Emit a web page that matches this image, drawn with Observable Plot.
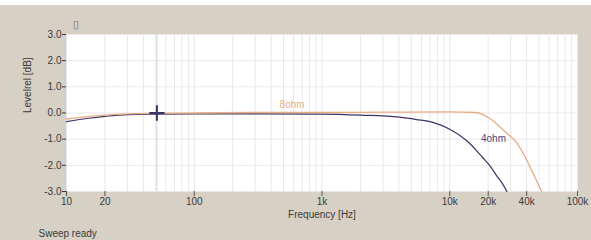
<!DOCTYPE html>
<html>
<head>
<meta charset="utf-8">
<script src="https://cdn.jsdelivr.net/npm/d3@7"></script>
<script src="https://cdn.jsdelivr.net/npm/@observablehq/plot@0.6"></script>
<style>
  html, body { margin: 0; padding: 0; background: #fff; }
  #chart svg { display: block; }
</style>
</head>
<body>
<div id="chart"></div>
<script>
// ---- data ----
const freq8 = [10, 15, 20, 30, 50, 100, 300, 1000, 3000, 10000, 16000, 20500, 25000, 29400, 33000, 37200, 41000, 44500, 48000, 50500, 52500];
const lvl8  = [-0.23, -0.13, -0.08, -0.03, -0.01, 0.0, 0.02, 0.02, 0.03, 0.04, 0.02, -0.2, -0.55, -0.87, -1.1, -1.5, -1.9, -2.27, -2.6, -2.85, -3.0];
const freq4 = [10, 15, 20, 30, 50, 100, 300, 1000, 2000, 4060, 5500, 7370, 10000, 13600, 18100, 20500, 23300, 26000, 28000];
const lvl4  = [-0.33, -0.2, -0.13, -0.06, -0.04, -0.03, -0.03, -0.04, -0.08, -0.16, -0.25, -0.36, -0.62, -1.06, -1.7, -2.0, -2.4, -2.72, -3.0];
const seriesNames = ["8ohm", "4ohm"];
const labelFreq = [583, 22000];
const labelLvl = [0.3, -1.0];
const cursorFreq = [51];
const cursorLvl = [0];
const xTicks = [10, 20, 100, 1000, 10000, 20000, 40000, 100000];
const xTickLabels = ["10", "20", "100", "1k", "10k", "20k", "40k", "100k"];
const yTicks = [-3, -2, -1, 0, 1, 2, 3];
const xLabel = "Frequency [Hz]";
const yLabel = "Levelrel [dB]";
const statusText = "Sweep ready";
const cornerGlyph = "▯";

// ---- derived tables ----
const s8 = freq8.map((f, i) => ({f, v: lvl8[i]}));
const s4 = freq4.map((f, i) => ({f, v: lvl4[i]}));
const labels = seriesNames.map((n, i) => ({n, f: labelFreq[i], v: labelLvl[i]}));
const cursor = cursorFreq.map((f, i) => ({f, v: cursorLvl[i]}));
const minor = [];
for (let e = 1; e < 5; e++) for (let m = 1; m <= 9; m++) minor.push(m * 10 ** e);
minor.push(100000);
const xTickRows = xTicks.map((t, i) => ({t, label: xTickLabels[i]}));

const c8 = "#e8ad80";
const c4 = "#3b3466";
const font = "Arial, 'Liberation Sans', sans-serif";

const chart = Plot.plot({
  width: 591,
  height: 240,
  marginLeft: 66,
  marginRight: 14,
  marginTop: 34,
  marginBottom: 49,
  style: {
    background: "linear-gradient(#ffffff 0 5px, #d7d0c4 5px)",
    fontFamily: font,
    fontSize: "10px",
    color: "#3a3a3a"
  },
  x: {type: "log", domain: [10, 100000]},
  y: {domain: [-3, 3]},
  marks: [
    Plot.frame({fill: "#ffffff", stroke: "#cfc9bf"}),
    Plot.ruleX(minor, {stroke: "#e8e8ec", strokeWidth: 1}),
    Plot.ruleY(yTicks, {stroke: "#e8e8ec", strokeWidth: 1}),
    Plot.ruleX(cursor, {x: "f", stroke: "#d0d3e2", strokeWidth: 1}),
    Plot.axisX({ticks: xTicks, tickFormat: () => "", tickSize: 5, label: null, stroke: "#555"}),
    Plot.text(xTickRows, {x: "t", text: "label", frameAnchor: "bottom", dy: 13, fill: "#3a3a3a", fontSize: 10}),
    Plot.axisY({ticks: yTicks, tickFormat: d => d.toFixed(1), tickSize: 4, tickPadding: 1, label: null}),
    Plot.line(s4, {x: "f", y: "v", stroke: c4, strokeWidth: 1.2, curve: "monotone-x"}),
    Plot.line(s8, {x: "f", y: "v", stroke: c8, strokeWidth: 1.3, curve: "monotone-x"}),
    Plot.text(labels, {x: "f", y: "v", text: "n", fill: (d) => d.n === "8ohm" ? c8 : "#4a4478", fontSize: 10}),
    Plot.dot(cursor, {x: "f", y: "v", symbol: "plus", r: 5, stroke: c4, strokeWidth: 2}),
    Plot.text([xLabel], {frameAnchor: "bottom", dy: 26, fill: "#3a3a3a", fontSize: 10}),
    Plot.text([yLabel], {frameAnchor: "left", dx: -39, rotate: -90, fill: "#3a3a3a", fontSize: 10}),
    Plot.text([statusText], {frameAnchor: "bottom-left", dx: -28, dy: 45, textAnchor: "start", fill: "#3a3a3a", fontSize: 10}),
    Plot.text([cornerGlyph], {frameAnchor: "top-left", dx: 6, dy: -14, fill: "#777", fontSize: 11})
  ]
});
document.getElementById("chart").append(chart);
</script>
</body>
</html>
